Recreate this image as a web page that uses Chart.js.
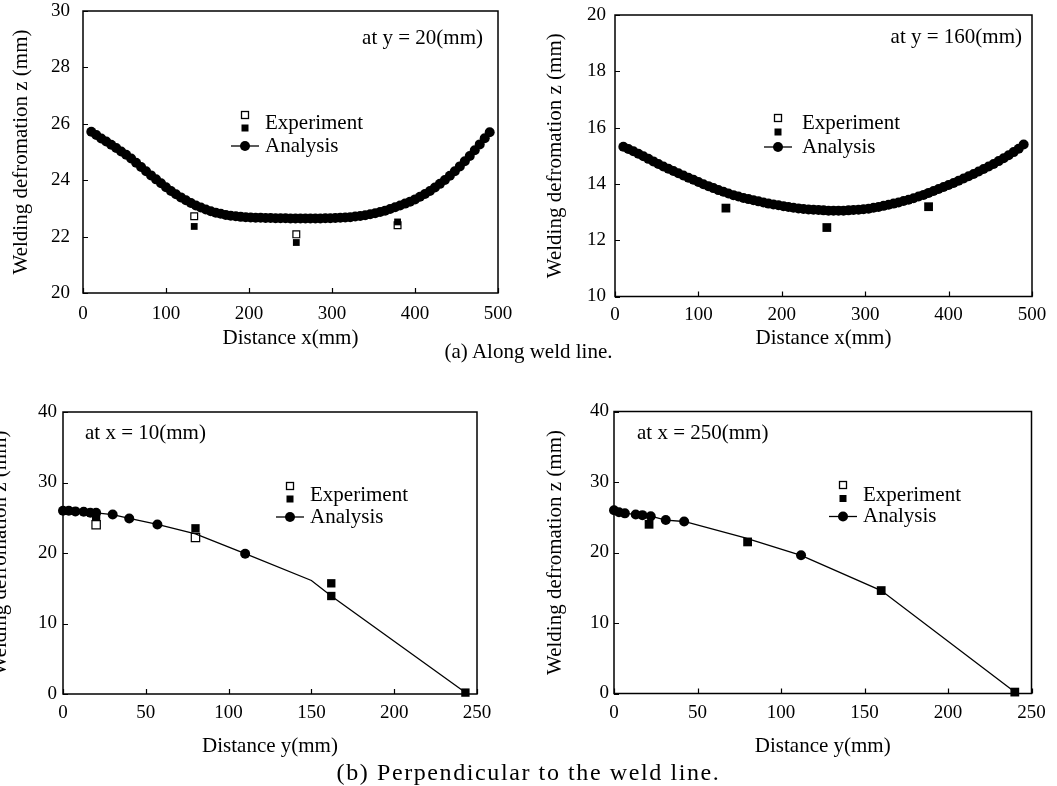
<!DOCTYPE html>
<html>
<head>
<meta charset="utf-8">
<script src="https://cdn.jsdelivr.net/npm/chart.js@4.4.1/dist/chart.umd.min.js"></script>
<style>
  html, body { margin: 0; padding: 0; background: #fff; }
  body { position: relative; width: 1057px; height: 786px; overflow: hidden; font-family: 'Liberation Serif', 'Times New Roman', serif; }
  canvas { position: absolute; }
  .cap { position: absolute; left: 0; width: 1057px; text-align: center; font-size: 21px; line-height: 24px; color: #000; }
  .wide { font-size: 24px; letter-spacing: 1.6px; }
</style>
</head>
<body>
<canvas id="c1" width="525" height="360" style="left:0;top:0"></canvas>
<canvas id="c2" width="527" height="360" style="left:530px;top:0"></canvas>
<canvas id="c3" width="545" height="391" style="left:-15px;top:395px"></canvas>
<canvas id="c4" width="527" height="391" style="left:530px;top:395px"></canvas>
<div class="cap" style="top:339px">(a) Along weld line.</div>
<div class="cap wide" style="top:760px">(b) Perpendicular to the weld line.</div>
<script>
// ---- along the weld line (x direction), analysis nodes
const alongX = [10, 16, 22, 28, 34, 40, 46, 52, 58, 64, 70, 76, 82, 88, 94, 100, 106, 112, 118, 124,
  130, 136, 142, 148, 154, 160, 166, 172, 178, 184, 190, 196, 202, 208, 214, 220, 226, 232, 238, 244,
  250, 256, 262, 268, 274, 280, 286, 292, 298, 304, 310, 316, 322, 328, 334, 340, 346, 352, 358, 364,
  370, 376, 382, 388, 394, 400, 406, 412, 418, 424, 430, 436, 442, 448, 454, 460, 466, 472, 478, 484, 490];

const analysisY20 = [25.72, 25.60, 25.48, 25.37, 25.26, 25.14, 25.02, 24.90, 24.77, 24.62,
  24.47, 24.32, 24.17, 24.03, 23.89, 23.75, 23.62, 23.50, 23.39, 23.29,
  23.19, 23.10, 23.03, 22.96, 22.90, 22.85, 22.81, 22.77, 22.74, 22.72,
  22.70, 22.69, 22.68, 22.67, 22.67, 22.66, 22.66, 22.65, 22.65, 22.65,
  22.64, 22.64, 22.64, 22.64, 22.64, 22.64, 22.64, 22.65, 22.65, 22.66,
  22.67, 22.68, 22.69, 22.71, 22.73, 22.76, 22.79, 22.83, 22.87, 22.92,
  22.98, 23.04, 23.10, 23.17, 23.24, 23.32, 23.41, 23.51, 23.62, 23.74,
  23.87, 24.01, 24.16, 24.32, 24.49, 24.67, 24.86, 25.06, 25.27, 25.49, 25.70];

const analysisY160 = [15.32, 15.24, 15.16, 15.07, 14.98, 14.89, 14.80, 14.71, 14.62, 14.54,
  14.46, 14.38, 14.30, 14.22, 14.15, 14.07, 13.99, 13.92, 13.85, 13.78,
  13.72, 13.66, 13.60, 13.55, 13.50, 13.46, 13.42, 13.38, 13.34, 13.30,
  13.27, 13.24, 13.21, 13.18, 13.15, 13.13, 13.11, 13.09, 13.08, 13.07,
  13.06, 13.05, 13.05, 13.05, 13.05, 13.06, 13.07, 13.08, 13.10, 13.12,
  13.15, 13.18, 13.22, 13.26, 13.30, 13.34, 13.39, 13.44, 13.49, 13.55,
  13.61, 13.68, 13.75, 13.82, 13.89, 13.96, 14.03, 14.11, 14.19, 14.27,
  14.35, 14.44, 14.53, 14.62, 14.71, 14.81, 14.91, 15.02, 15.13, 15.25, 15.40];

// measured points along the weld line
const expX20 = [134, 257, 379];
const expOpenY20 = [22.72, 22.08, 22.40];
const expFilledY20 = [22.36, 21.79, 22.52];
const expX160 = [133, 254, 376];
const expFilledY160 = [13.14, 12.45, 13.19];

// ---- perpendicular to the weld line (y direction)
const perpX10 = [0, 3.5, 7.5, 12.5, 16.5, 20, 30, 40, 57, 80, 110, 150, 162, 243];
const perpZ10 = [26.0, 26.0, 25.9, 25.85, 25.7, 25.7, 25.45, 24.9, 24.05, 22.7, 19.9, 16.1, 13.9, 0.2];
const lineOnlyX10 = [80, 150, 162, 243];   // nodes the curve passes without a marker
const expOpenX10 = [20, 80];
const expOpenZ10 = [24.0, 22.2];
const expFilledX10 = [20, 80, 162, 162, 243];
const expFilledZ10 = [25.2, 23.5, 15.7, 13.9, 0.2];

const perpX250 = [0, 3, 6.5, 13, 17, 22, 31, 42, 78, 112, 160, 240];
const perpZ250 = [26.0, 25.7, 25.55, 25.4, 25.3, 25.15, 24.6, 24.4, 22.1, 19.6, 14.6, 0.2];
const lineOnlyX250 = [78, 160, 240];
const expFilledX250 = [21, 80, 160, 240];
const expFilledZ250 = [24.0, 21.5, 14.6, 0.2];

const FONT = "'Liberation Serif', 'Times New Roman', serif";
const pts = (xs, ys) => xs.map((x, i) => ({x: x, y: ys[i]}));

// frame, inward tick marks, the stacked-square legend and the condition note
const panelDecor = {
  id: 'panelDecor',
  beforeDatasetsDraw(chart) {
    const {ctx, chartArea: a, scales: {x, y}} = chart;
    ctx.save();
    ctx.strokeStyle = '#000';
    ctx.lineWidth = 1.2;
    ctx.beginPath();
    x.ticks.forEach(t => {
      const px = Math.round(x.getPixelForValue(t.value)) + 0.5;
      ctx.moveTo(px, a.bottom); ctx.lineTo(px, a.bottom - 5);
    });
    y.ticks.forEach(t => {
      const py = Math.round(y.getPixelForValue(t.value)) + 0.5;
      ctx.moveTo(a.left, py); ctx.lineTo(a.left + 5, py);
    });
    ctx.stroke();
    ctx.restore();
  },
  afterDatasetsDraw(chart, args, opts) {
    const {ctx, chartArea: a} = chart;
    ctx.save();
    ctx.strokeStyle = '#000';
    ctx.lineWidth = 1.5;
    ctx.strokeRect(a.left, a.top, a.right - a.left, a.bottom - a.top);

    const lg = opts.legend;
    const lx = a.left + lg.x, s = lg.size;
    ctx.fillStyle = '#fff';
    ctx.lineWidth = 1.3;
    ctx.fillRect(lx - s / 2, a.top + lg.yOpen - s / 2, s, s);
    ctx.strokeRect(lx - s / 2, a.top + lg.yOpen - s / 2, s, s);
    ctx.fillStyle = '#000';
    ctx.fillRect(lx - s / 2, a.top + lg.yFilled - s / 2, s, s);
    ctx.beginPath();
    ctx.lineWidth = 1.3;
    ctx.moveTo(lx - 14, a.top + lg.yAna);
    ctx.lineTo(lx + 14, a.top + lg.yAna);
    ctx.stroke();
    ctx.beginPath();
    ctx.arc(lx, a.top + lg.yAna, 5, 0, Math.PI * 2);
    ctx.fill();

    ctx.font = '21px ' + FONT;
    ctx.textBaseline = 'middle';
    ctx.textAlign = 'left';
    ctx.fillText('Experiment', lx + lg.textDx, a.top + lg.yExp);
    ctx.fillText('Analysis', lx + lg.textDx, a.top + lg.yAna);

    const n = opts.note;
    ctx.textAlign = n.side;
    const nx = n.side === 'right' ? a.right - n.dx : a.left + n.dx;
    ctx.fillText(n.text, nx, a.top + n.dy);
    ctx.restore();
  }
};

function makePanel(id, p) {
  const tickFont = {family: FONT, size: 19};
  const titleFont = {family: FONT, size: 21};
  const datasets = [
    {
      label: 'Analysis',
      data: p.analysis,
      showLine: true,
      tension: 0,
      borderColor: '#000',
      borderWidth: 1.3,
      backgroundColor: '#000',
      pointStyle: 'circle',
      pointRadius: ctx => (p.lineOnly && p.lineOnly.includes(ctx.raw.x)) ? 0 : p.dot,
      pointBorderWidth: 0,
      order: 0,
      clip: false
    },
    {
      label: 'Experiment',
      data: p.filled,
      showLine: false,
      pointStyle: 'rect',
      pointRadius: p.sq,
      backgroundColor: '#000',
      borderColor: '#000',
      pointBorderWidth: 0,
      order: 1,
      clip: false
    },
    {
      label: 'Experiment (open)',
      data: p.open,
      showLine: false,
      pointStyle: 'rect',
      pointRadius: p.sq,
      backgroundColor: '#fff',
      borderColor: '#000',
      pointBorderWidth: 1.2,
      order: 2,
      clip: false
    }
  ];
  return new Chart(document.getElementById(id), {
    type: 'scatter',
    data: {datasets: datasets},
    options: {
      responsive: false,
      animation: false,
      events: [],
      layout: {padding: p.pad},
      plugins: {
        legend: {display: false},
        tooltip: {enabled: false},
        panelDecor: {legend: p.legend, note: p.note}
      },
      scales: {
        x: {
          type: 'linear',
          min: p.xMin, max: p.xMax,
          ticks: {stepSize: p.xStep, font: tickFont, color: '#000', padding: p.xTickPad, maxRotation: 0, autoSkip: false},
          grid: {display: false, drawTicks: false},
          border: {display: false},
          title: {display: true, text: p.xTitle, font: titleFont, color: '#000', padding: {top: 0, bottom: p.xTitlePad}},
          afterFit: s => { s.height = p.xAxisH; s.paddingLeft = 0; s.paddingRight = 0; }
        },
        y: {
          type: 'linear',
          min: p.yMin, max: p.yMax,
          ticks: {stepSize: p.yStep, font: tickFont, color: '#000', padding: p.yTickPad, autoSkip: false},
          grid: {display: false, drawTicks: false},
          border: {display: false},
          title: {display: true, text: 'Welding defromation z (mm)', font: titleFont, color: '#000', padding: {top: p.yTitlePad, bottom: 0}},
          afterFit: s => { s.width = p.yAxisW; s.paddingTop = 0; s.paddingBottom = 0; }
        }
      }
    },
    plugins: [panelDecor]
  });
}

makePanel('c1', {
  analysis: pts(alongX, analysisY20),
  filled: pts(expX20, expFilledY20),
  open: pts(expX20, expOpenY20),
  dot: 5, sq: 4.8,
  xMin: 0, xMax: 500, xStep: 100, yMin: 20, yMax: 30, yStep: 2,
  xTitle: 'Distance x(mm)',
  pad: {left: 0, top: 11, right: 27, bottom: 0},
  yAxisW: 83, xAxisH: 67, yTickPad: 13, xTickPad: 10, xTitlePad: 9, yTitlePad: 9,
  legend: {x: 162, size: 7, yOpen: 104, yFilled: 117, yExp: 112, yAna: 135, textDx: 20},
  note: {text: 'at y = 20(mm)', side: 'right', dx: 15, dy: 27}
});

makePanel('c2', {
  analysis: pts(alongX, analysisY160),
  filled: pts(expX160, expFilledY160),
  open: [],
  dot: 5, sq: 6.2,
  xMin: 0, xMax: 500, xStep: 100, yMin: 10, yMax: 20, yStep: 2,
  xTitle: 'Distance x(mm)',
  pad: {left: 0, top: 15, right: 25, bottom: 0},
  yAxisW: 85, xAxisH: 63.5, yTickPad: 9, xTickPad: 7, xTitlePad: 9, yTitlePad: 13,
  legend: {x: 163, size: 7, yOpen: 103, yFilled: 117, yExp: 108, yAna: 132, textDx: 24},
  note: {text: 'at y = 160(mm)', side: 'right', dx: 10, dy: 22}
});

makePanel('c3', {
  analysis: pts(perpX10, perpZ10),
  lineOnly: lineOnlyX10,
  filled: pts(expFilledX10, expFilledZ10),
  open: pts(expOpenX10, expOpenZ10),
  dot: 5, sq: 5.9,
  xMin: 0, xMax: 250, xStep: 50, yMin: 0, yMax: 40, yStep: 10,
  xTitle: 'Distance y(mm)',
  pad: {left: 0, top: 17, right: 53, bottom: 0},
  yAxisW: 78, xAxisH: 92, yTickPad: 6, xTickPad: 8, xTitlePad: 27, yTitlePad: 3,
  legend: {x: 227, size: 7, yOpen: 74, yFilled: 87, yExp: 83, yAna: 105, textDx: 20},
  note: {text: 'at x = 10(mm)', side: 'left', dx: 22, dy: 21}
});

makePanel('c4', {
  analysis: pts(perpX250, perpZ250),
  lineOnly: lineOnlyX250,
  filled: pts(expFilledX250, expFilledZ250),
  open: [],
  dot: 5, sq: 6.2,
  xMin: 0, xMax: 250, xStep: 50, yMin: 0, yMax: 40, yStep: 10,
  xTitle: 'Distance y(mm)',
  pad: {left: 0, top: 16.5, right: 25.5, bottom: 0},
  yAxisW: 84, xAxisH: 92.5, yTickPad: 5, xTickPad: 8, xTitlePad: 27, yTitlePad: 13,
  legend: {x: 229, size: 7, yOpen: 73.5, yFilled: 87, yExp: 83.5, yAna: 105, textDx: 20},
  note: {text: 'at x = 250(mm)', side: 'left', dx: 23, dy: 22}
});
</script>
</body>
</html>
